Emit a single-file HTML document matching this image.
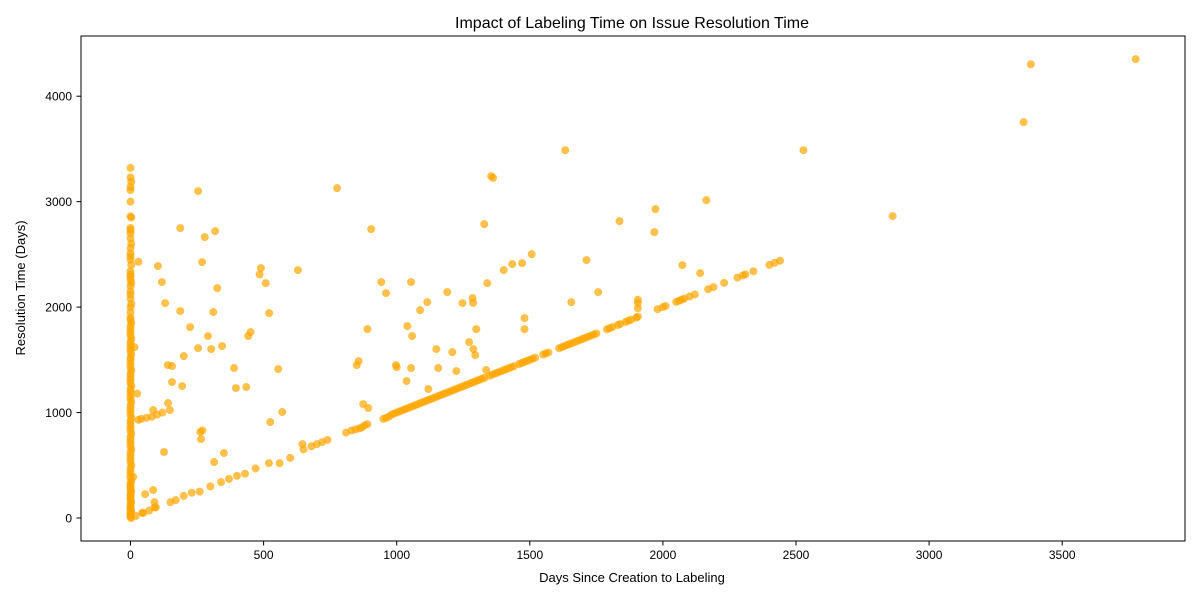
<!DOCTYPE html>
<html><head><meta charset="utf-8"><style>
body{margin:0;background:#fff;}
svg{font-family:"Liberation Sans","DejaVu Sans",sans-serif;}
</style></head><body>
<svg id="chart" width="1200" height="600">
<rect x="0" y="0" width="1200" height="600" fill="#fff"/>
<text x="632" y="28" text-anchor="middle" font-size="16" fill="#000">Impact of Labeling Time on Issue Resolution Time</text>
<g id="marks"></g>
<g id="axes"></g>
<rect x="81" y="36" width="1104" height="505" fill="none" stroke="#000" stroke-width="1"/>
<text x="632" y="582" text-anchor="middle" font-size="13">Days Since Creation to Labeling</text>
<text transform="translate(25,288) rotate(-90)" text-anchor="middle" font-size="13">Resolution Time (Days)</text>
</svg>
<script>
const xTicks = [0,500,1000,1500,2000,2500,3000,3500];
const yTicks = [0,1000,2000,3000,4000];
const columnY = [0,10,20,35,50,65,80,95,110,130,150,170,190,210,230,250,270,290,310,330,350,380,410,440,470,500,530,560,590,620,650,680,710,740,770,800,830,860,890,920,950,980,1010,1040,1070,1100,1130,1160,1190,1220,1250,1280,1310,1340,1370,1400,1430,1460,1490,1520,1550,1580,1610,1640,1670,1700,1730,1760,1790,1820,1850,1880,1900,1950,2000,2030,2080,2120,2150,2200,2230,2260,2290,2310,2340,2400,2450,2480,2510,2560,2600,2650,2700,2730,2750,2850,2860,3000,3110,3140,3190,3230,3320];
const diagX = [20,45,70,95,150,170,200,230,260,300,340,370,400,430,470,520,560,600,650,680,700,720,740,810,830,845,860,870,880,890,950,960,970,980,990,1000,1010,1020,1030,1040,1050,1060,1070,1080,1090,1100,1110,1120,1130,1140,1150,1160,1170,1180,1190,1200,1210,1220,1230,1240,1250,1260,1270,1280,1290,1300,1310,1320,1330,1350,1360,1370,1380,1390,1400,1410,1420,1430,1440,1460,1470,1480,1490,1500,1510,1520,1550,1560,1570,1610,1620,1630,1640,1650,1660,1670,1680,1690,1700,1710,1720,1730,1740,1750,1790,1800,1810,1830,1840,1860,1870,1880,1900,1980,2000,2010,2050,2060,2070,2080,2100,2120,2170,2190,2230,2280,2300,2310,2340,2400,2420,2440];
const diagY = [20,50,70,100,150,170,210,240,250,300,340,370,400,420,470,520,520,570,650,680,700,720,740,810,830,840,850,860,880,890,940,950,960,980,990,1000,1010,1020,1030,1040,1050,1060,1070,1080,1090,1100,1110,1120,1130,1140,1150,1160,1170,1180,1190,1200,1210,1220,1230,1240,1250,1260,1270,1280,1290,1300,1310,1320,1330,1350,1360,1370,1380,1390,1400,1410,1420,1430,1440,1460,1470,1480,1490,1500,1510,1520,1550,1560,1570,1610,1620,1630,1640,1650,1660,1670,1680,1690,1700,1710,1720,1730,1740,1750,1790,1800,1810,1830,1840,1860,1870,1880,1900,1980,2000,2010,2050,2060,2070,2080,2100,2120,2170,2190,2230,2280,2300,2310,2340,2400,2420,2440];
const scatterX = [3776,3382,3355,2863,2528,2163,1972,1968,1837,1633,1355,1362,776,1329,904,254,187,279,318,269,103,629,490,485,508,942,960,1054,1434,1471,1507,1402,1340,1190,1247,1285,1287,1115,1088,1757,1713,1656,2073,2140,326,118,187,311,130,521,555,570,525,646,890,857,850,1040,1058,1054,997,1000,1037,1149,1156,1209,1224,1288,1295,1299,1272,1336,1480,1480,1119,874,893,389,396,451,442,435,344,303,254,291,224,200,156,140,156,194,85,141,148,262,270,265,314,351,126,47,90,90,55,85,30,40,60,80,100,120,1906,1906,1906,1906,30,15,10,25];
const scatterY = [4351,4303,3754,2863,3488,3014,2929,2711,2815,3488,3242,3225,3128,2787,2739,3100,2749,2664,2720,2427,2389,2351,2370,2310,2227,2237,2133,2237,2408,2417,2502,2351,2227,2142,2038,2085,2040,2047,1971,2142,2446,2047,2398,2322,2180,2237,1962,1953,2038,1943,1412,1005,910,701,1791,1488,1450,1820,1725,1422,1450,1430,1299,1602,1422,1573,1393,1602,1545,1791,1668,1403,1896,1791,1223,1080,1043,1422,1232,1763,1725,1242,1630,1602,1611,1725,1810,1535,1441,1450,1289,1251,1024,1090,1024,815,830,749,531,616,626,47,150,100,227,265,930,940,950,960,980,1000,1910,1990,2040,2070,2430,1620,390,1180];

const x = v => 130.5 + v * 0.2662;
const y = v => 518 - v * 0.10545;
const svgNS = "http://www.w3.org/2000/svg";
const marks = document.getElementById('marks');
const axes = document.getElementById('axes');

function dot(px, py) {
  const c = document.createElementNS(svgNS, 'circle');
  c.setAttribute('cx', x(px));
  c.setAttribute('cy', y(py));
  c.setAttribute('r', 4);
  c.setAttribute('fill', '#FFA500');
  c.setAttribute('fill-opacity', '0.7');
  
  
  marks.appendChild(c);
}
columnY.forEach((v, i) => dot(i % 5 === 0 ? 3 : 0, v));
diagX.forEach((v, i) => dot(v, diagY[i]));
scatterX.forEach((v, i) => dot(v, scatterY[i]));

xTicks.forEach(t => {
  const l = document.createElementNS(svgNS, 'line');
  l.setAttribute('x1', x(t)); l.setAttribute('x2', x(t));
  l.setAttribute('y1', 541); l.setAttribute('y2', 545.5);
  l.setAttribute('stroke', '#000');
  
  
  axes.appendChild(l);
  const tx = document.createElementNS(svgNS, 'text');
  tx.setAttribute('x', x(t)); tx.setAttribute('y', 559);
  tx.setAttribute('text-anchor', 'middle'); tx.setAttribute('font-size', '12');
  tx.textContent = t;
  
  
  axes.appendChild(tx);
});
yTicks.forEach(t => {
  const l = document.createElementNS(svgNS, 'line');
  l.setAttribute('x1', 76.5); l.setAttribute('x2', 81);
  l.setAttribute('y1', y(t)); l.setAttribute('y2', y(t));
  l.setAttribute('stroke', '#000');
  
  
  axes.appendChild(l);
  const tx = document.createElementNS(svgNS, 'text');
  tx.setAttribute('x', 72); tx.setAttribute('y', y(t) + 4.5);
  tx.setAttribute('text-anchor', 'end'); tx.setAttribute('font-size', '12');
  tx.textContent = t;
  
  
  axes.appendChild(tx);
});
</script>
</body></html>
